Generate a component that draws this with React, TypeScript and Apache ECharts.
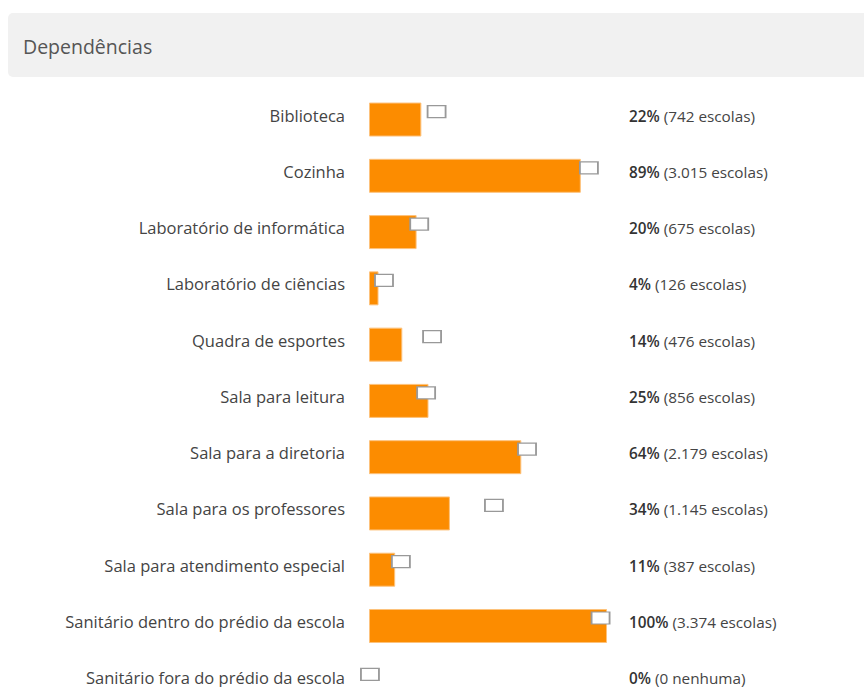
import React, { useEffect, useRef } from "react";
import * as echarts from "echarts";

const categories = [
  "Biblioteca",
  "Cozinha",
  "Laboratório de informática",
  "Laboratório de ciências",
  "Quadra de esportes",
  "Sala para leitura",
  "Sala para a diretoria",
  "Sala para os professores",
  "Sala para atendimento especial",
  "Sanitário dentro do prédio da escola",
  "Sanitário fora do prédio da escola",
];
const percents = [22, 89, 20, 4, 14, 25, 64, 34, 11, 100, 0];
const schoolCounts = ["742 escolas", "3.015 escolas", "675 escolas", "126 escolas", "476 escolas", "856 escolas", "2.179 escolas", "1.145 escolas", "387 escolas", "3.374 escolas", "0 nenhuma"];
const referenceValues = [28.4, 92.4, 21.1, 6.3, 26.5, 24.0, 66.4, 52.5, 13.4, 97.3, 0.4];

const FONT = "'Open Sans', 'Noto Sans', sans-serif";

export default function App() {
  const ref = useRef<HTMLDivElement>(null);
  useEffect(() => {
    if (!ref.current) return;
    const chart = echarts.init(ref.current, undefined, { renderer: "svg" });
    chart.setOption({
      animation: false,
      backgroundColor: "#ffffff",
      graphic: [
        {
          type: "rect",
          shape: { x: 8, y: 13, width: 870, height: 64, r: 5 },
          style: { fill: "#f1f1f1" },
          z: -1,
        },
        {
          type: "text",
          x: 23,
          y: 46,
          style: {
            text: "Dependências",
            fontFamily: FONT,
            fontSize: 19.5,
            fill: "#555555",
            verticalAlign: "middle",
          },
        },
      ],
      grid: { left: 369, top: 91.4, width: 238, height: 619 },
      xAxis: {
        type: "value",
        min: 0,
        max: 100,
        show: false,
      },
      yAxis: [
        {
          type: "category",
          data: categories,
          inverse: true,
          position: "left",
          axisLine: { show: false },
          axisTick: { show: false },
          splitLine: { show: false },
          axisLabel: {
            margin: 24,
            formatter: (v: string) => `{a|${v}}`,
            rich: {
              a: { fontFamily: FONT, fontSize: 16.5, color: "#444444", padding: [0, 0, 9, 0] },
            },
          },
        },
        {
          type: "category",
          data: categories,
          inverse: true,
          position: "right",
          axisLine: { show: false },
          axisTick: { show: false },
          splitLine: { show: false },
          axisLabel: {
            margin: 22,
            align: "left",
            formatter: (_v: string, i: number) => `{b|${percents[i]}%}{n| (${schoolCounts[i]})}`,
            rich: {
              b: { fontFamily: FONT, fontSize: 15.3, fontWeight: 600, color: "#333333", padding: [0, 0, 8, 0] },
              n: { fontFamily: FONT, fontSize: 15.3, color: "#444444", padding: [0, 0, 8, 0] },
            },
          },
        },
      ],
      series: [
        {
          type: "bar",
          data: percents.map((p) => (p === 0 ? { value: 0, itemStyle: { borderWidth: 0, opacity: 0 } } : p)),
          barWidth: 34,
          itemStyle: { color: "#fc8c00", borderColor: "#fdc27c", borderWidth: 1 },
          silent: true,
        },
        {
          type: "scatter",
          data: referenceValues.map((v, i) => [v, categories[i]]),
          symbol: "rect",
          symbolSize: [18, 12],
          symbolOffset: [0, -8],
          itemStyle: { color: "#ffffff", borderColor: "#999999", borderWidth: 1.5, opacity: 1 },
          z: 5,
          silent: true,
        },
      ],
    });
    return () => chart.dispose();
  }, []);
  return (
    <div style={{ position: "fixed", left: 0, top: 0, width: 864, height: 687, overflow: "hidden", background: "#fff" }}>
      <div ref={ref} style={{ width: 864, height: 740 }} />
    </div>
  );
}
